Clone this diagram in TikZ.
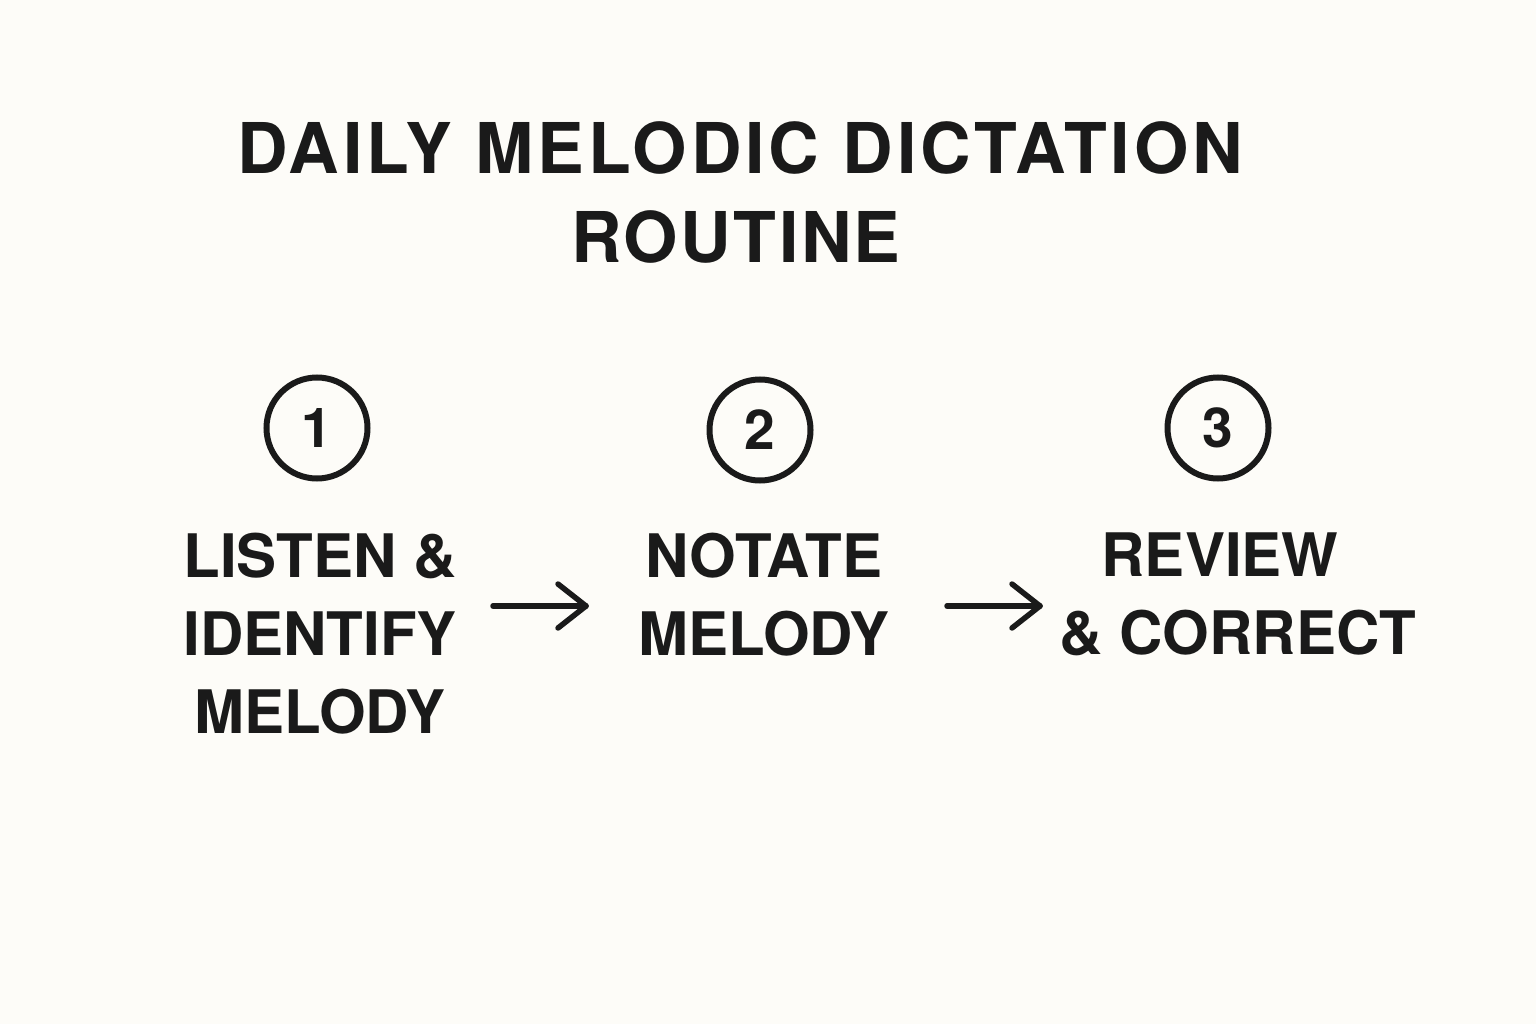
\documentclass[tikz,border=0pt]{standalone}
\usepackage{fontspec}
\setmainfont{TeX Gyre Heros}
\newfontfamily\titlefont[LetterSpace=5.5]{TeX Gyre Heros}
\newfontfamily\titlefontb[LetterSpace=3.5]{TeX Gyre Heros}
\usetikzlibrary{calc}
\definecolor{bg}{HTML}{FDFCF8}
\definecolor{ink}{HTML}{1A1A1A}
\tikzset{
  titletext/.style={font=\titlefont\bfseries\fontsize{70}{84}\selectfont, text=ink, inner sep=0pt, anchor=base},
  titletextb/.style={font=\titlefontb\bfseries\fontsize{70}{84}\selectfont, text=ink, inner sep=0pt, anchor=base},
  steplabel/.style={font=\bfseries\fontsize{60}{78}\selectfont, text=ink, inner sep=0pt, align=center, anchor=north},
  numcircle/.style={circle, draw=ink, line width=6pt, minimum size=101pt, inner sep=0pt, font=\bfseries\fontsize{55}{60}\selectfont, text=ink},
  arrowline/.style={draw=ink, line width=5.5pt, line cap=round, line join=round}
}
\begin{document}
\begin{tikzpicture}[x=1pt, y=-1pt]
\fill[bg] (0,0) rectangle (1536,1024);
\useasboundingbox (0,0) rectangle (1536,1024);

\node[titletext] (title1) at (740,174) {DAILY MELODIC DICTATION};
\node[titletextb] (title2) at (736,263) {ROUTINE};

\node[numcircle] (c1) at (317,428) {1};
\node[numcircle] (c2) at (760,430) {2};
\node[numcircle] (c3) at (1218,428) {3};

\node[steplabel] (s1) at (320,533) {LISTEN \&\\IDENTIFY\\MELODY};
\node[steplabel] (s2) at (764,533) {NOTATE\\MELODY};
\node[steplabel] (s3) at (1238,533) {REVIEW\hspace*{36pt}\\\& CORRECT};

\coordinate (a1s) at (493,606);
\coordinate (a1e) at (586,606);
\coordinate (a2s) at (947,606);
\coordinate (a2e) at (1040,606);

\draw[arrowline] (a1s) -- (a1e);
\draw[arrowline] ($(a1e)+(-28,-22)$) -- (a1e) -- ($(a1e)+(-28,22)$);
\draw[arrowline] (a2s) -- (a2e);
\draw[arrowline] ($(a2e)+(-28,-22)$) -- (a2e) -- ($(a2e)+(-28,22)$);
\end{tikzpicture}
\end{document}
